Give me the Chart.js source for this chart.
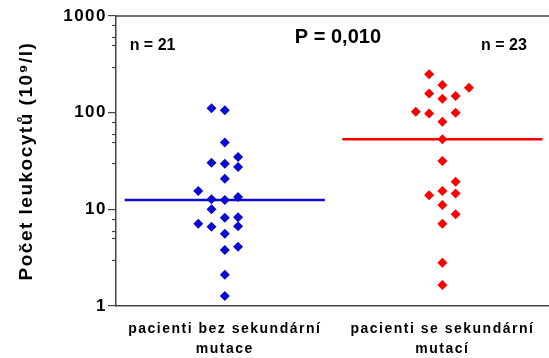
<!DOCTYPE html>
<html>
<head>
<meta charset="utf-8">
<script src="https://cdn.jsdelivr.net/npm/chart.js@4"></script>
<style>
  body { margin: 0; background: #fff; }
  #wrap { width: 549px; height: 358px; }
</style>
</head>
<body>
<div id="wrap"><canvas id="chart"></canvas></div>
<script>
// groups on the x axis
const groups = [['pacienti bez sekundární', 'mutace'], ['pacienti se sekundární', 'mutací']];
const groupN = ['n = 21', 'n = 23'];
const pText = 'P = 0,010';

// leukocyte counts (10^9/l) and the column each dot sits in
const bezValues = [111, 106, 49, 30.3, 29.6, 34.7, 27.4, 20.7, 15.5, 12.7, 12.5, 13.4, 10, 8.2, 8.3, 7.1, 6.6, 6.7, 5.6, 3.8, 4.1, 2.1, 1.27];
const bezSlots  = [-1, 0, 0, -1, 0, 1, 1, 0, -2, -1, 0, 1, -1, 0, 1, -2, -1, 1, 0, 0, 1, 0, 0];
const seValues  = [249, 193, 181, 158, 139, 149, 102, 98, 100, 80.5, 53, 31.6, 19.3, 15.5, 14.6, 14, 11.1, 8.9, 7.1, 2.8, 1.65];
const seSlots   = [-1, 0, 2, -1, 0, 1, -2, -1, 1, 0, 0, 0, 1, 0, 1, -1, 0, 1, 0, 0, 0];
const medians = [12.5, 53];

// y axis ticks
const yMajor = [1, 10, 100, 1000];
const yMinor = [3, 5, 6, 8, 30, 50, 60, 80, 300, 500, 600, 800];

const slotW = 0.061;
const halfLine = 0.46;
const BLUE = '#0a0ad2';
const RED = '#ff0000';
const FONT = 'Liberation Sans, Arial, sans-serif';

function dots(center, values, slots) {
  return values.map((v, i) => ({ x: center + slots[i] * slotW, y: v }));
}
function medianLine(center, m) {
  return [{ x: center - halfLine, y: m }, { x: center + halfLine, y: m }];
}

// spaced-out axis text, top frame line, minor log ticks, n / P annotations
const extras = {
  id: 'extras',
  beforeDraw(chart) {
    chart.ctx.letterSpacing = '1.5px';
  },
  afterDraw(chart) {
    const { ctx, chartArea, scales } = chart;
    const y = scales.y, x = scales.x;
    ctx.letterSpacing = '0px';
    ctx.save();
    ctx.strokeStyle = '#444';
    ctx.lineWidth = 1.5;
    ctx.beginPath();
    ctx.moveTo(chartArea.left, chartArea.top);
    ctx.lineTo(chartArea.right, chartArea.top);
    ctx.stroke();
    ctx.lineWidth = 1.2;
    yMinor.forEach(v => {
      const py = Math.round(y.getPixelForValue(v)) + 0.5;
      ctx.beginPath();
      ctx.moveTo(chartArea.left - 4, py);
      ctx.lineTo(chartArea.left, py);
      ctx.stroke();
    });
    ctx.fillStyle = '#000';
    ctx.textAlign = 'center';
    ctx.textBaseline = 'middle';
    ctx.font = 'bold 16px ' + FONT;
    ctx.fillText(groupN[0], x.getPixelForValue(0.668), chartArea.top + 30);
    ctx.fillText(groupN[1], x.getPixelForValue(2.283), chartArea.top + 30);
    ctx.font = 'bold 20px ' + FONT;
    ctx.fillText(pText, x.getPixelForValue(1.52), chartArea.top + 21);
    ctx.restore();
  }
};

new Chart(document.getElementById('chart'), {
  type: 'scatter',
  data: {
    datasets: [
      { data: dots(1, bezValues, bezSlots), backgroundColor: BLUE, borderColor: BLUE,
        pointStyle: 'rectRot', pointRadius: 5, borderWidth: 0 },
      { data: dots(2, seValues, seSlots), backgroundColor: RED, borderColor: RED,
        pointStyle: 'rectRot', pointRadius: 5, borderWidth: 0 },
      { type: 'line', data: medianLine(1, medians[0]), borderColor: BLUE, borderWidth: 2.5,
        pointRadius: 0 },
      { type: 'line', data: medianLine(2, medians[1]), borderColor: RED, borderWidth: 2.5,
        pointRadius: 0 }
    ]
  },
  options: {
    responsive: true,
    maintainAspectRatio: false,
    animation: false,
    layout: { padding: { top: 16, right: 0, left: 0, bottom: 0 }, autoPadding: false },
    plugins: { legend: { display: false }, tooltip: { enabled: false } },
    scales: {
      x: {
        type: 'linear',
        min: 0.5,
        max: 2.49,
        afterBuildTicks: s => { s.ticks = [{ value: 1 }, { value: 2 }]; },
        afterFit: s => { s.height = 52; },
        grid: { display: false, drawTicks: false },
        border: { color: '#444', width: 1.5 },
        ticks: {
          color: '#000',
          padding: 13,
          maxRotation: 0,
          font: { family: FONT, size: 14, weight: 'bold', lineHeight: 1.45 },
          callback: v => groups[v - 1]
        }
      },
      y: {
        type: 'logarithmic',
        min: 1,
        max: 1000,
        afterBuildTicks: s => { s.ticks = yMajor.map(v => ({ value: v })); },
        afterFit: s => { s.width = 116; },
        grid: { drawOnChartArea: false, tickLength: 8, color: '#444', lineWidth: 1.2 },
        border: { color: '#444', width: 1.5 },
        ticks: {
          color: '#000',
          padding: 1,
          font: { family: FONT, size: 17, weight: 'bold' },
          callback: v => String(v)
        },
        title: {
          display: true,
          text: 'Počet leukocytů (10⁹/l)',
          color: '#000',
          font: { family: FONT, size: 19, weight: 'bold' },
          padding: { top: 15 }
        }
      }
    }
  },
  plugins: [extras]
});
</script>
</body>
</html>
